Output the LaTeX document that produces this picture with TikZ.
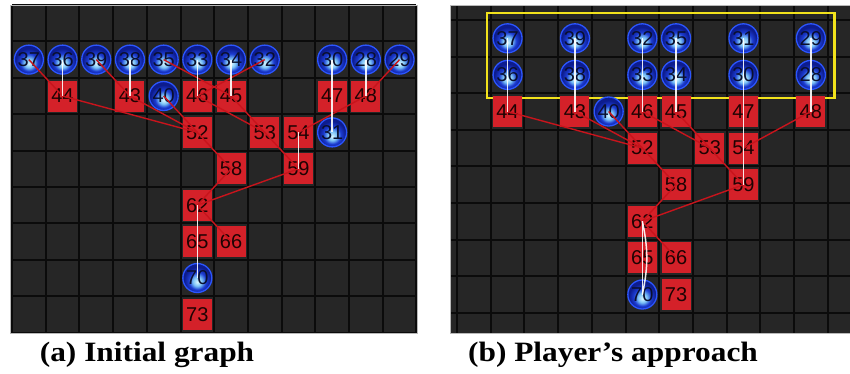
\documentclass[tikz,border=0pt]{standalone}
\usepackage{fontspec}
\usepackage{xcolor}
\usepackage{tikz}
\setmainfont{Liberation Serif}
\newfontfamily\numfont{Liberation Sans}
\newfontfamily\capfont[FakeStretch=1.12]{Liberation Serif}
\definecolor{cellgray}{HTML}{262626}
\definecolor{gridblack}{HTML}{0B0B0B}
\definecolor{boxred}{HTML}{D42129}
\definecolor{edgered}{HTML}{C8141C}
\definecolor{numdark}{HTML}{1E0303}
\definecolor{balltxt}{HTML}{0A0F2E}
\definecolor{ballrim}{HTML}{2B55FF}
\definecolor{balldark}{HTML}{0D1C8E}
\definecolor{ballblue}{HTML}{1C3CD2}
\definecolor{ballmid}{HTML}{78C0F6}
\definecolor{ballglow}{HTML}{DAF8FF}
\definecolor{frameyellow}{HTML}{F2E21C}
\pgfdeclareradialshading{bulb}{\pgfpoint{0bp}{-7bp}}{color(0bp)=(ballglow); color(8bp)=(ballmid); color(15bp)=(ballblue); color(23bp)=(balldark); color(50bp)=(balldark)}

\begin{document}
\begin{tikzpicture}[x=1pt,y=-1pt,
    gridline/.style={gridblack,line width=2pt},
    sq/.style={rectangle,fill=boxred,minimum width=29pt,minimum height=31pt,inner sep=0pt,
      text=numdark,font=\numfont\fontsize{20}{20}\selectfont},
    bulbnode/.style={circle,shading=bulb,draw=ballrim,line width=1.3pt,minimum size=29pt,
      inner sep=0pt,text=balltxt,font=\numfont\fontsize{20}{20}\selectfont},
    redge/.style={edgered,line width=1.4pt},
    wedge/.style={white,line width=1.5pt,opacity=.9},
    capnode/.style={anchor=base,font=\capfont\bfseries\fontsize{28}{28}\selectfont}]
  \useasboundingbox[fill=white] (0,0) rectangle (850,373);

  % (a) initial graph
  \fill[cellgray] (10,5) rectangle (417,333);
  \begin{scope}[shift={(12,5)},x=33.7pt,y=-36.4pt]
    \foreach \i in {0,...,12} \draw[gridline] (\i,0) -- (\i,9);
    \foreach \j in {0,...,9} \draw[gridline] (0,\j) -- (12,\j);
    \foreach \n/\c/\r in {44/1/2,43/3/2,46/5/2,45/6/2,47/9/2,48/10/2,52/5/3,53/7/3,54/8/3,
        58/6/4,59/8/4,62/5/5,65/5/6,66/6/6,73/5/8}
      \node[sq] (a\n) at (\c+.5,\r+.5) {\n};
    \foreach \n/\c/\r in {37/0/1,36/1/1,39/2/1,38/3/1,35/4/1,33/5/1,34/6/1,32/7/1,30/9/1,
        28/10/1,29/11/1,40/4/2,31/9/3,70/5/7}
      \node[bulbnode] (a\n) at (\c+.5,\r+.5) {\n};
    \foreach \p/\q in {37/44,39/43,35/45,32/46,29/48,44/52,43/52,40/52,46/53,45/53,48/54,
        52/58,53/59,58/62,59/62,62/66}
      \draw[redge] (a\p.center) -- (a\q.center);
    \foreach \p/\q in {36/44,38/43,33/46,34/45,28/48,30/31,54/59,62/70}
      \draw[wedge] (a\p.center) -- (a\q.center);
  \end{scope}
  \draw[gray!55,line width=.8pt] (10,5) rectangle (417,333);

  % (b) player's approach
  \begin{scope}
    \clip (450,5) rectangle (850,333);
    \fill[cellgray] (450,5) rectangle (850,333);
    \begin{scope}[shift={(457,20)},x=33.7pt,y=-36.6pt]
      \foreach \i in {-1,...,12} \draw[gridline] (\i,-1) -- (\i,9);
      \foreach \j in {-1,...,9} \draw[gridline] (-1,\j) -- (12,\j);
      \draw[frameyellow,line width=2.6pt] (.89,-.19) rectangle (11.2,2.13);
      \foreach \n/\c/\r in {44/1/2,43/3/2,46/5/2,45/6/2,47/8/2,48/10/2,52/5/3,53/7/3,54/8/3,
          58/6/4,59/8/4,62/5/5,65/5/6,66/6/6,73/6/7}
        \node[sq] (b\n) at (\c+.5,\r+.5) {\n};
      \foreach \n/\c/\r in {37/1/0,39/3/0,32/5/0,35/6/0,31/8/0,29/10/0,36/1/1,38/3/1,33/5/1,
          34/6/1,30/8/1,28/10/1,40/4/2,70/5/7}
        \node[bulbnode] (b\n) at (\c+.5,\r+.5) {\n};
      \foreach \p/\q in {44/52,43/52,40/52,46/53,45/53,48/54,52/58,53/59,58/62,59/62,62/66}
        \draw[redge] (b\p.center) -- (b\q.center);
      \foreach \p/\q in {37/44,39/43,32/46,35/45,31/59,29/48,62/70}
        \draw[wedge] (b\p.center) -- (b\q.center);
      \draw[wedge] (b62.center) to[bend left=12] (b70.center);
    \end{scope}
  \end{scope}
  \draw[gray!55,line width=.8pt] (450,5) -- (850,5) (450,5) -- (450,333) -- (850,333);

  \node[capnode] (capa) at (147,361) {(a) Initial graph};
  \node[capnode] (capb) at (613,361) {(b) Player’s approach};
\end{tikzpicture}
\end{document}
